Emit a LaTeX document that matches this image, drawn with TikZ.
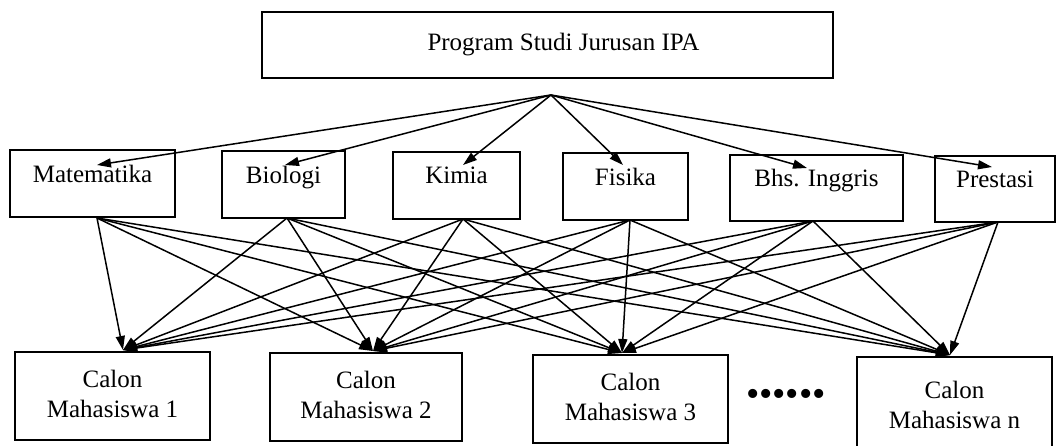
\documentclass[tikz,border=0pt]{standalone}
\usepackage{fontspec}
\setmainfont{Liberation Serif}
\usetikzlibrary{arrows.meta}
\begin{document}
\begin{tikzpicture}[x=1pt,y=-1pt,
  box/.style={draw, line width=1.6pt, rectangle, inner sep=0pt, align=center,
    font=\fontsize{25}{30}\selectfont},
  crit/.style={box, minimum height=67pt, text depth=20pt},
  cand/.style={box, minimum height=88pt, text depth=4pt},
  link/.style={line width=1.5pt, -{Triangle[length=14pt,width=9pt]}}]
\useasboundingbox (0,0) rectangle (1057,445);
\fill[white] (0,0) rectangle (1057,445);

% top programme box
\node[box, minimum width=571pt, minimum height=66pt] (t) at (547.5,45) {\hspace*{32pt}Program Studi Jurusan IPA};

% criteria row
\node[crit, minimum width=165pt] (m1) at (92.5,183.5) {Matematika};
\node[crit, minimum width=123pt] (m2) at (283.5,184.5) {Biologi};
\node[crit, minimum width=127pt] (m3) at (456.5,185.5) {Kimia};
\node[crit, minimum width=125pt] (m4) at (625.5,186.5) {Fisika};
\node[crit, minimum width=173pt, minimum height=66pt] (m5) at (816.5,188) {Bhs. Inggris};
\node[crit, minimum width=120pt, minimum height=66pt] (m6) at (995,189) {Prestasi};

% candidate row
\node[cand, minimum width=195pt] (b1) at (112.5,396) {Calon\\Mahasiswa 1};
\node[cand, minimum width=192pt] (b2) at (366,397) {Calon\\Mahasiswa 2};
\node[cand, minimum width=195pt] (b3) at (630.5,399) {Calon\\Mahasiswa 3};
\node[box, minimum width=195pt, minimum height=96pt] (b4) at (954.5,405) {Calon\\Mahasiswa n};
\node[font=\fontsize{38}{42}\selectfont, inner sep=0pt] (dots) at (786,398) {••••••};

% fan point below the top box
\coordinate (f) at (551,95);
% arrow tips inside the criteria boxes
\coordinate (mt1) at (97,165);
\coordinate (mt2) at (285,165);
\coordinate (mt3) at (463,165);
\coordinate (mt4) at (623,165);
\coordinate (mt5) at (807,168);
\coordinate (mt6) at (992,167);
% line sources on the criteria boxes
\coordinate (ms1) at (97,218);
\coordinate (ms2) at (287,218);
\coordinate (ms3) at (463,219);
\coordinate (ms4) at (630,220);
\coordinate (ms5) at (813,221);
\coordinate (ms6) at (998,222);
% arrow tips on the candidate boxes
\coordinate (bt1) at (123,350);
\coordinate (bt2) at (373,351);
\coordinate (bt3) at (622,353);
\coordinate (bt4) at (950,355);

\foreach \i in {1,...,6} \draw[link] (f) -- (mt\i);
\foreach \i in {1,...,6} \foreach \j in {1,...,4} \draw[link] (ms\i) -- (bt\j);
\end{tikzpicture}
\end{document}
